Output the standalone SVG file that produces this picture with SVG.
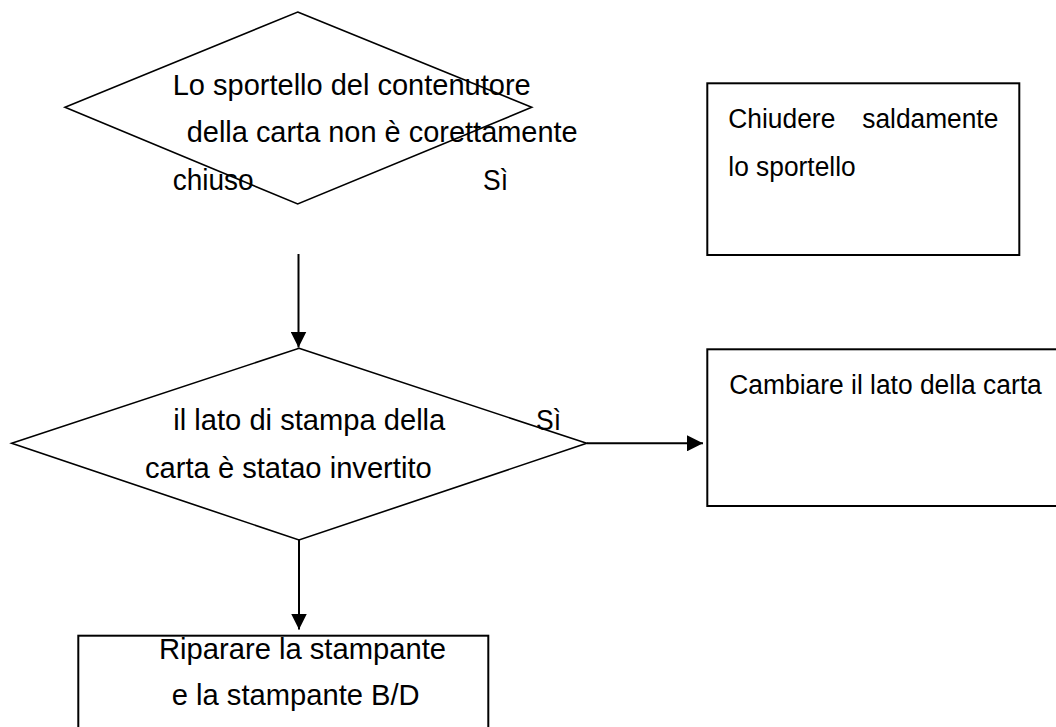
<svg xmlns="http://www.w3.org/2000/svg" width="1056" height="727" viewBox="0 0 1056 727">
<style>
.shape{fill:none;stroke:#000;stroke-width:1.6}
.box{fill:none;stroke:#000;stroke-width:2}
.conn{fill:none;stroke:#000;stroke-width:2}
text{font-family:"Liberation Sans",Arial,sans-serif;fill:#000}
.t28{font-size:30px}
.t26{font-size:27px}
</style>
<defs>
<marker id="arr" viewBox="0 0 16 16" refX="16" refY="8" markerWidth="16" markerHeight="16" markerUnits="userSpaceOnUse" orient="auto">
<path d="M0,0 L16,8 L0,16 Z" fill="#000"/>
</marker>
</defs>
<rect width="1056" height="727" fill="#fff"/>
<g id="decision1">
<polygon class="shape" points="297.7,12 531.7,107.3 297.7,204 65,107.3"/>
<text class="t28" x="172.7" y="94.5" textLength="358" lengthAdjust="spacingAndGlyphs">Lo sportello del contenutore</text>
<text class="t28" x="186.7" y="142" textLength="391" lengthAdjust="spacingAndGlyphs">della carta non è corettamente</text>
<text class="t28" x="172.7" y="190" textLength="81" lengthAdjust="spacingAndGlyphs">chiuso</text>
<text class="t28" x="483" y="190" textLength="25" lengthAdjust="spacingAndGlyphs">Sì</text>
</g>
<g id="box-close">
<rect class="box" x="707.3" y="83.3" width="312" height="171.7"/>
<text class="t26" x="728.3" y="128" textLength="107" lengthAdjust="spacingAndGlyphs">Chiudere</text>
<text class="t26" x="862.3" y="128" textLength="136" lengthAdjust="spacingAndGlyphs">saldamente</text>
<text class="t26" x="728.3" y="175.5" textLength="127.4" lengthAdjust="spacingAndGlyphs">lo sportello</text>
</g>
<g id="decision2">
<polygon class="shape" points="299,348.3 586.7,443.3 299,540 11.7,443.3"/>
<text class="t28" x="173.3" y="430" textLength="272" lengthAdjust="spacingAndGlyphs">il lato di stampa della</text>
<text class="t28" x="145" y="477.5" textLength="286.7" lengthAdjust="spacingAndGlyphs">carta è statao invertito</text>
<text class="t28" x="536" y="430" textLength="25" lengthAdjust="spacingAndGlyphs">Sì</text>
</g>
<g id="box-change">
<rect class="box" x="707.3" y="349.3" width="360" height="156.7"/>
<text class="t26" x="729.3" y="394" textLength="312.4" lengthAdjust="spacingAndGlyphs">Cambiare il lato della carta</text>
</g>
<g id="box-repair">
<rect class="box" x="78.3" y="635.7" width="410" height="100"/>
<text class="t28" x="159" y="659" textLength="287" lengthAdjust="spacingAndGlyphs">Riparare la stampante</text>
<text class="t28" x="171.7" y="705" textLength="248" lengthAdjust="spacingAndGlyphs">e la stampante B/D</text>
</g>
<g id="connectors">
<line class="conn" x1="298.5" y1="254" x2="298.5" y2="347.5" marker-end="url(#arr)"/>
<line class="conn" x1="586.7" y1="443.3" x2="703" y2="443.3" marker-end="url(#arr)"/>
<line class="conn" x1="299" y1="540" x2="299" y2="629.5" marker-end="url(#arr)"/>
</g>
</svg>
